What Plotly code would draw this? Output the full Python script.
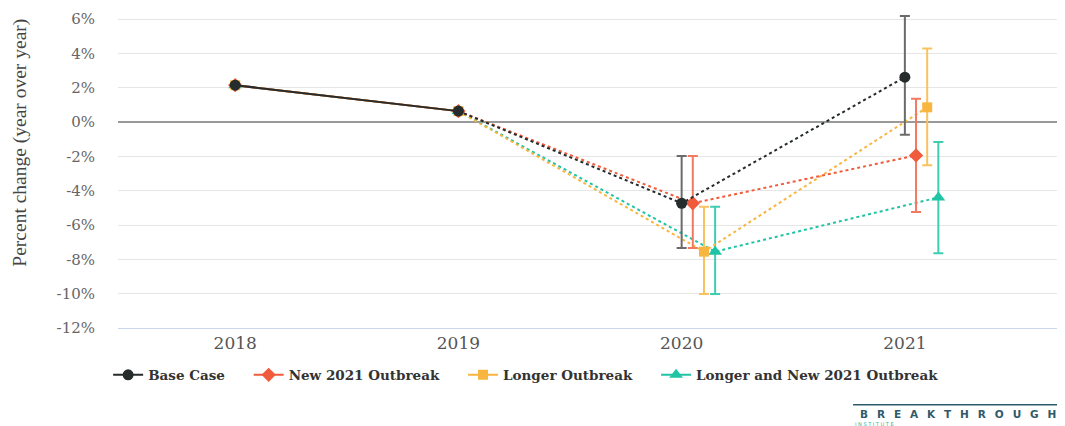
import plotly.graph_objects as go

years_hist = [2018, 2019]
hist_values = [2.15, 0.64]

forecast_years = [2020, 2021]
series_names = ["Base Case", "New 2021 Outbreak", "Longer Outbreak", "Longer and New 2021 Outbreak"]
series_offsets = [0.0, 0.05, 0.10, 0.15]
series_values = {
    "Base Case": [-4.73, 2.62],
    "New 2021 Outbreak": [-4.73, -1.94],
    "Longer Outbreak": [-7.55, 0.86],
    "Longer and New 2021 Outbreak": [-7.55, -4.39],
}
series_upper = {
    "Base Case": [-1.98, 6.19],
    "New 2021 Outbreak": [-1.98, 1.36],
    "Longer Outbreak": [-4.93, 4.29],
    "Longer and New 2021 Outbreak": [-4.93, -1.16],
}
series_lower = {
    "Base Case": [-7.34, -0.74],
    "New 2021 Outbreak": [-7.34, -5.24],
    "Longer Outbreak": [-10.02, -2.52],
    "Longer and New 2021 Outbreak": [-10.02, -7.65],
}
tick_years = [2018, 2019, 2020, 2021]
y_ticks = [-12, -10, -8, -6, -4, -2, 0, 2, 4, 6]

colors = {
    "Base Case": "#262b2b",
    "New 2021 Outbreak": "#ef5b3b",
    "Longer Outbreak": "#f8b53f",
    "Longer and New 2021 Outbreak": "#1fc4a4",
}
err_colors = {
    "Base Case": "#6b6b6b",
    "New 2021 Outbreak": "#f27a60",
    "Longer Outbreak": "#f9c25e",
    "Longer and New 2021 Outbreak": "#3fcdb2",
}
symbols = {
    "Base Case": "circle",
    "New 2021 Outbreak": "diamond",
    "Longer Outbreak": "square",
    "Longer and New 2021 Outbreak": "triangle-up",
}
sizes = {
    "Base Case": 11,
    "New 2021 Outbreak": 11,
    "Longer Outbreak": 10,
    "Longer and New 2021 Outbreak": 12,
}
NB = "\u00a0"
legend_pad = {
    "Base Case": 4,
    "New 2021 Outbreak": 4,
    "Longer Outbreak": 4,
    "Longer and New 2021 Outbreak": 0,
}

fig = go.Figure()

# draw in reverse so Base Case is on top
for rank, name in reversed(list(enumerate(series_names))):
    c = colors[name]
    off = series_offsets[rank]
    fx = [y + off for y in forecast_years]
    vals = series_values[name]
    up = [u - v for u, v in zip(series_upper[name], vals)]
    lo = [v - l for l, v in zip(series_lower[name], vals)]
    fig.add_trace(go.Scatter(
        x=[years_hist[-1]] + fx, y=[hist_values[-1]] + vals,
        mode="lines", line=dict(color=c, width=2, dash="dot"),
        showlegend=False, hoverinfo="skip"))
    fig.add_trace(go.Scatter(
        x=fx, y=vals, mode="markers",
        marker=dict(color=c, symbol=symbols[name], size=sizes[name]),
        error_y=dict(type="data", symmetric=False, array=up, arrayminus=lo,
                     color=err_colors[name], thickness=2, width=5),
        showlegend=False))
    fig.add_trace(go.Scatter(
        x=years_hist, y=hist_values, mode="lines+markers",
        name=name + NB * legend_pad[name],
        line=dict(color=c, width=2),
        marker=dict(color=c, symbol=symbols[name], size=sizes[name]),
        legendrank=rank + 1))

# page body has an 8px margin; figure is offset by (8, 8)
fig.update_layout(
    width=1057, height=418,
    margin=dict(l=110, r=7, t=0, b=98),
    paper_bgcolor="white", plot_bgcolor="white",
    font=dict(family="DejaVu Serif", color="#666666"),
    showlegend=True,
    legend=dict(orientation="h", x=-0.0105, xanchor="left", y=-0.147, yanchor="middle",
                font=dict(family="DejaVu Serif", size=13.5, color="#333333", weight="bold"),
                itemwidth=30, traceorder="normal"),
    xaxis=dict(range=[2017.475, 2021.686], tickvals=tick_years, ticktext=[str(t) for t in tick_years],
               showgrid=False, zeroline=False, showline=True, linecolor="#ccd6eb", linewidth=1,
               ticks="", ticklabelstandoff=0,
               tickfont=dict(family="DejaVu Serif", size=17, color="#555555")),
    yaxis=dict(range=[-12, 6.65], tickvals=y_ticks, ticktext=[f"{t}%" for t in y_ticks],
               showgrid=True, gridcolor="#e6e6e6", gridwidth=1,
               zeroline=True, zerolinecolor="#999999", zerolinewidth=1.5,
               ticks="", ticklabelstandoff=22,
               tickfont=dict(family="DejaVu Serif", size=15, color="#666666")),
)

# Y axis title
fig.add_annotation(xref="paper", yref="paper", x=-0.104, y=0.58, xanchor="center", yanchor="middle",
                   text="Percent change (year over year)", textangle=-90, showarrow=False,
                   font=dict(family="Liberation Serif", size=19.5, color="#444444"))

# Logo
logo = "\u2002 ".join(list("BREAKTHROUGH"))
fig.add_annotation(xref="paper", yref="paper", x=1.0, y=-0.27, xanchor="right", yanchor="middle",
                   text="<b>" + logo + "</b>", showarrow=False,
                   font=dict(family="DejaVu Sans", size=10.5, color="#2f5a6b"))
fig.add_shape(type="line", xref="paper", yref="paper", x0=0.782, x1=1.0, y0=-0.24, y1=-0.24,
              line=dict(color="#2f5a6b", width=1.5))
fig.add_annotation(xref="paper", yref="paper", x=0.782, y=-0.3, xanchor="left", yanchor="middle",
                   text="I N S T I T U T E", showarrow=False,
                   font=dict(family="DejaVu Sans", size=5, color="#2fb5a5"))

fig.write_html("out.html")
